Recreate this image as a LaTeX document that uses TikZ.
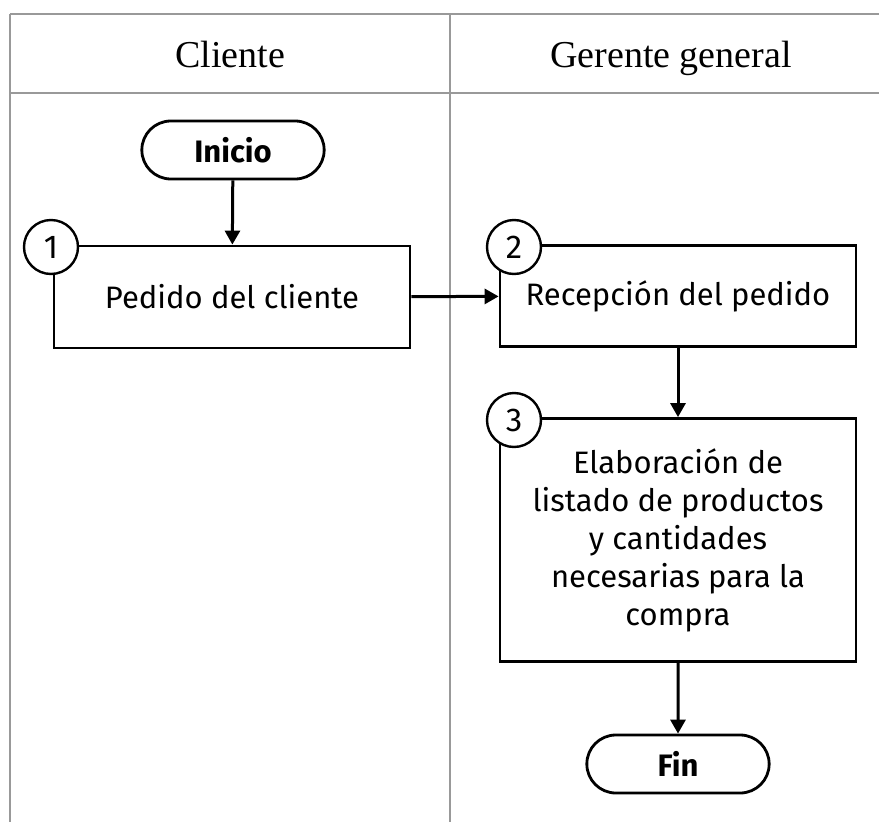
\documentclass[tikz,border=0pt]{standalone}
\usepackage{fontspec}
\setmainfont{Liberation Serif}
\newfontfamily\boxfont{Fira Sans}
\usetikzlibrary{shapes.misc, arrows.meta}

\begin{document}
\begin{tikzpicture}[x=1pt, y=-1pt,
    lane/.style={draw=black!40, line width=1.4pt},
    header/.style={anchor=base, font=\fontsize{38}{44}\selectfont},
    terminal/.style={rounded rectangle, draw, line width=2.8pt, minimum width=189pt, minimum height=58pt, font=\boxfont\bfseries\fontsize{31}{36}\selectfont},
    process/.style={rectangle, draw, line width=2.8pt, minimum width=356pt, align=center, font=\boxfont\fontsize{31}{38}\selectfont},
    stepnum/.style={circle, draw, fill=white, line width=2.4pt, minimum size=54pt, inner sep=0pt, font=\boxfont\fontsize{33}{36}\selectfont},
    flow/.style={-{Triangle[width=15pt, length=14pt]}, line width=3pt}]
    \useasboundingbox (0, 0) rectangle (879, 822);
    % swimlanes
    \draw[lane] (10, 14) -- (879, 14);
    \draw[lane] (10, 93) -- (879, 93);
    \draw[lane] (10, 14) -- (10, 822);
    \draw[lane] (450, 14) -- (450, 822);
    \node[header] (cliente) at (230, 67) {Cliente};
    \node[header] (gerente) at (671, 67) {Gerente general};
    % steps
    \node[terminal] (inicio) at (233, 150) {Inicio};
    \node[process, minimum height=102pt] (pedido) at (232, 297) {Pedido del cliente};
    \node[process, minimum height=101pt] (recepcion) at (678, 296) {Recepción del pedido};
    \node[process, minimum height=243pt] (listado) at (678, 540) {Elaboración de\\listado de productos\\y cantidades\\necesarias para la\\compra};
    \node[terminal] (fin) at (678, 764) {Fin};
    \node[stepnum] (n1) at (51, 247) {1};
    \node[stepnum] (n2) at (514, 247) {2};
    \node[stepnum] (n3) at (514, 420) {3};
    \draw[flow] (inicio) -- (pedido);
    \draw[flow] (pedido) -- (recepcion);
    \draw[flow] (recepcion) -- (listado);
    \draw[flow] (listado) -- (fin);
\end{tikzpicture}
\end{document}
